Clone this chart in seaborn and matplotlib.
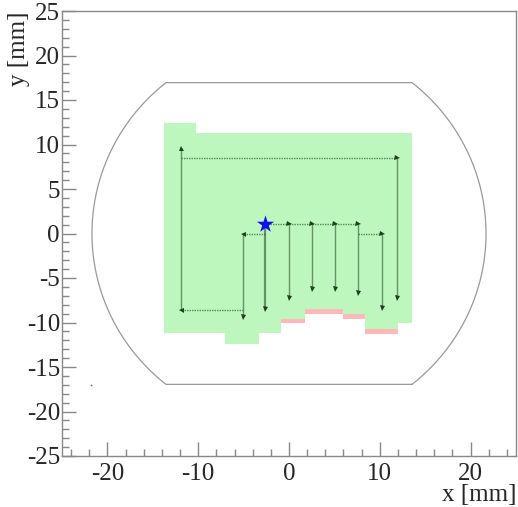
import numpy as np
import pandas as pd
import matplotlib
matplotlib.use("Agg")
import matplotlib.pyplot as plt
import seaborn as sns

# ---- data ----
col_edges = [-13.8, -10.2, -7.0, -3.3, -0.9, 1.76, 5.9, 8.4, 12.0, 13.6]
green_top = [12.45, 11.26, 11.26, 11.26, 11.26, 11.26, 11.26, 11.26, 11.26]
green_bottom = [-11.2, -11.2, -12.45, -11.2, -9.6, -8.5, -9.0, -10.7, -10.1]
pink_bottom = [np.nan, np.nan, np.nan, np.nan, -10.1, -9.0, -9.6, -11.26, np.nan]

# path arrows (start -> end)
harrow_x0 = [-2.6, -0.03, 2.53, 5.1, 7.6, -2.6, -5.1, -11.9]
harrow_x1 = [-0.03, 2.53, 5.1, 7.6, 10.2, -5.1, -11.9, 11.85]
harrow_y = [1.07, 1.07, 1.07, 1.07, 0.0, 0.0, -8.6, 8.5]

varrow_x = [-2.6, -0.03, 2.53, 5.1, 7.6, 10.2, -5.1, -11.9, 11.85]
varrow_y0 = [1.07, 1.07, 1.07, 1.07, 1.07, 0.0, 0.0, -8.6, 8.5]
varrow_y1 = [-8.5, -7.3, -6.2, -6.2, -6.65, -8.4, -9.35, 9.57, -7.3]
varrow_lw = [1.6, 1.0, 1.0, 1.0, 1.0, 1.0, 1.0, 1.0, 1.0]

start_x = [-2.6]
start_y = [1.07]

wafer_radius = 21.7
wafer_flat = 16.95

x_major = [-20, -10, 0, 10, 20]
y_major = [-25, -20, -15, -10, -5, 0, 5, 10, 15, 20, 25]

# ---- style ----
sns.set_style("ticks")
plt.rcParams["font.family"] = ["Liberation Serif", "DejaVu Serif"]
plt.rcParams["font.size"] = 18

fig = plt.figure(figsize=(5.18, 5.07), dpi=100)
ax = fig.add_axes([62 / 518, 1 - 456 / 507, (516 - 62) / 518, (456 - 11) / 507])

# green / pink columns
lefts = np.array(col_edges[:-1])
widths = np.diff(col_edges)
gt = np.array(green_top)
gb = np.array(green_bottom)
pb = np.array(pink_bottom)
ax.bar(lefts, gt - gb, bottom=gb, width=widths, align="edge",
       color="#bdf7bd", edgecolor="none", linewidth=0, zorder=1)
mask = ~np.isnan(pb)
ax.bar(lefts[mask], (gb - pb)[mask], bottom=pb[mask], width=widths[mask],
       align="edge", color="#ffb8b8", edgecolor="none", linewidth=0, zorder=1)

# wafer outline
theta_lim = np.arcsin(wafer_flat / wafer_radius)
t_right = np.linspace(-theta_lim, theta_lim, 200)
t_left = np.linspace(np.pi - theta_lim, np.pi + theta_lim, 200)
xr = wafer_radius * np.cos(t_right)
yr = wafer_radius * np.sin(t_right)
xl = wafer_radius * np.cos(t_left)
yl = wafer_radius * np.sin(t_left)
ox = np.concatenate([xr, xl, xr[:1]])
oy = np.concatenate([yr, yl, yr[:1]])
outline = pd.DataFrame({"x": ox, "y": oy})
sns.lineplot(data=outline, x="x", y="y", sort=False, estimator=None,
             color="#999999", linewidth=0.9, ax=ax, zorder=2)

line_col = "#3d6b3d"
head_col = "#1f3f1f"
# horizontal dotted arrows
for x0, x1, y in zip(harrow_x0, harrow_x1, harrow_y):
    ax.plot([x0, x1], [y, y], color=line_col, linestyle=(0, (1, 0.8)),
            linewidth=1.0, alpha=0.8, zorder=3)
    ax.plot([x1], [y], marker=">" if x1 > x0 else "<", markersize=3.6,
            color=head_col, markeredgewidth=0, zorder=4)
# vertical solid arrows
for x, y0, y1, lw in zip(varrow_x, varrow_y0, varrow_y1, varrow_lw):
    ax.plot([x, x], [y0, y1], color=line_col, linewidth=lw, alpha=0.7, zorder=3)
    ax.plot([x], [y1], marker="^" if y1 > y0 else "v", markersize=3.6,
            color=head_col, markeredgewidth=0, zorder=4)

# start star
sns.scatterplot(x=start_x, y=start_y, marker="*", s=170, color="#1010ee",
                edgecolor="#1010ee", linewidth=0, ax=ax, zorder=5)
# tiny stray dot
ax.plot([-21.8], [-17.0], marker="o", markersize=1.2, color="#666666",
        markeredgewidth=0, zorder=2)

ax.set_xlim(-25, 25)
ax.set_ylim(-25, 25)
ax.set_xticks(x_major)
ax.set_xticks(np.arange(-24, 25, 2), minor=True)
ax.set_yticks(y_major)
ax.set_yticks(np.arange(-25, 26, 1), minor=True)
ax.set_xticklabels([str(v) for v in x_major])
ax.set_yticklabels([str(v) for v in y_major])
ax.tick_params(axis="both", which="both", direction="in", color="#888888",
               top=False, right=False, labelsize=18)
ax.tick_params(axis="both", which="major", length=10, width=1.0)
ax.tick_params(axis="both", which="minor", length=5, width=1.0)
ax.tick_params(axis="x", which="major", pad=5)
ax.tick_params(axis="y", which="major", pad=1.5)
for s in ax.spines.values():
    s.set_color("#888888")
    s.set_linewidth(1.0)
    s.set_visible(True)
ax.set_xlabel("")
ax.set_ylabel("")

fig.text(516 / 518, 1 - 495 / 507, "x [mm]", ha="right", va="center", fontsize=18)
fig.text(19 / 518, 1 - 11 / 507, "y [mm]", ha="center", va="top",
         rotation=90, fontsize=18)

fig.savefig("out.png", dpi=100)
